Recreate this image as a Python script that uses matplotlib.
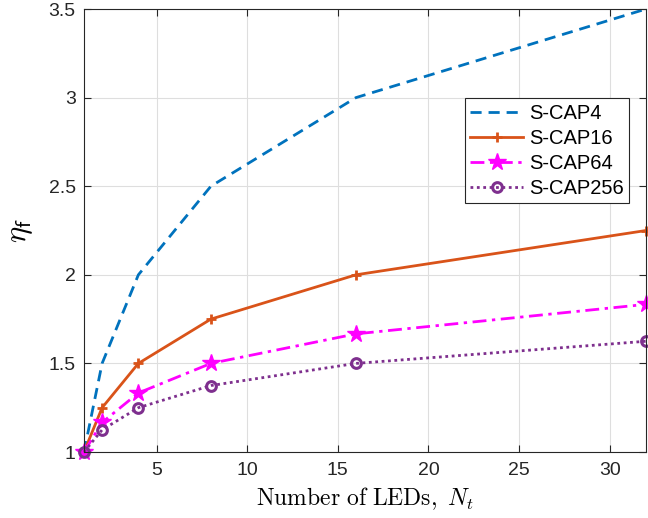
import numpy as np
import matplotlib
matplotlib.use("Agg")
import matplotlib.pyplot as plt

plt.rcParams['font.family'] = ['Liberation Sans', 'DejaVu Sans']
plt.rcParams['mathtext.fontset'] = 'cm'

n_leds = [1, 2, 4, 8, 16, 32]
scap4 = [1.0, 1.5, 2.0, 2.5, 3.0, 3.5]
scap16 = [1.0, 1.25, 1.5, 1.75, 2.0, 2.25]
scap64 = [1.0, 1.1667, 1.3333, 1.5, 1.6667, 1.8333]
scap256 = [1.0, 1.125, 1.25, 1.375, 1.5, 1.625]
labels = ["S-CAP4", "S-CAP16", "S-CAP64", "S-CAP256"]

fig = plt.figure(figsize=(6.48, 5.18), dpi=100)
ax = fig.add_axes([0.1296, 0.1274, 0.8674, 0.8552])

ax.plot(n_leds, scap4, color='#0072BD', lw=2.0, ls=(0, (4, 2.5)), label=labels[0], clip_on=False)
ax.plot(n_leds, scap16, color='#D95319', lw=2.0, ls='-', marker='+', ms=7, mew=2, label=labels[1],
        clip_on=False)
ax.plot(n_leds, scap64, color='#FF00FF', lw=2.0, ls=(0, (5, 2, 1.2, 2)), marker='*', ms=13,
        label=labels[2], clip_on=False)
ax.plot(n_leds, scap256, color='#7E2F8E', lw=2.0, ls=(0, (1, 1.3)), marker='o', ms=7, mew=2.2,
        mfc='none', label=labels[3], clip_on=False)

ax.set_xlim(1, 32)
ax.set_ylim(1, 3.5)
ax.set_xticks([5, 10, 15, 20, 25, 30])
ax.set_yticks([1, 1.5, 2, 2.5, 3, 3.5])
ax.set_yticklabels(['1', '1.5', '2', '2.5', '3', '3.5'])
ax.grid(True, color='#dedede', lw=0.8)
ax.set_axisbelow(True)
ax.tick_params(direction='in', top=True, right=True, labelsize=14, colors='#262626', length=5)
ax.tick_params(axis='x', pad=7)
ax.tick_params(axis='y', pad=6)
for s in ax.spines.values():
    s.set_color('#262626')
    s.set_linewidth(0.8)

ax.set_xlabel(r"$\mathrm{Number\ of\ LEDs,}\ N_t$", fontsize=17, labelpad=5)
ax.set_ylabel(r"$\eta_{\mathsf{f}}$", fontsize=22, labelpad=10)

leg = ax.legend(loc='upper right', bbox_to_anchor=(0.970, 0.799), fontsize=14.5, fancybox=False,
                framealpha=1, edgecolor='#262626', handlelength=2.6, borderpad=0.28,
                labelspacing=0.3, handletextpad=0.3, borderaxespad=0)
leg.get_frame().set_linewidth(0.8)

fig.savefig('out.png', dpi=100)
